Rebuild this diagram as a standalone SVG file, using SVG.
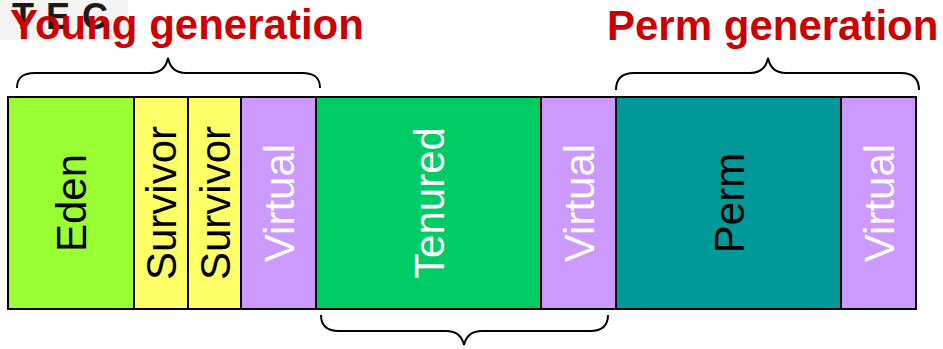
<svg xmlns="http://www.w3.org/2000/svg" width="943" height="349" viewBox="0 0 943 349">
  <style>
    .box { stroke: #000; stroke-width: 2; }
    .lbl { font-family: "Liberation Sans", Arial, sans-serif; font-size: 42px; text-anchor: middle; }
    .title { font-family: "Liberation Sans", Arial, sans-serif; font-size: 42px; font-weight: bold; fill: #CC0000; }
    .brace { fill: none; stroke: #000; stroke-width: 2; }
  </style>
  <rect x="0" y="0" width="943" height="349" fill="#fff"/>
  <g id="logo">
    <rect x="0" y="0" width="128" height="40" fill="#f3f3f3"/>
    <text x="12" y="29" font-family="Liberation Sans, Arial, sans-serif" font-size="36" font-weight="bold" letter-spacing="12" fill="#1a1a1a">TEC</text>
  </g>
  <g id="eden">
    <rect class="box" x="8" y="97" width="126" height="212" fill="#99FF33"/>
    <text class="lbl" x="71" y="203" dy="15" transform="rotate(-90 71 203)" fill="#000">Eden</text>
  </g>
  <g id="survivor1">
    <rect class="box" x="134" y="97" width="54" height="212" fill="#FFFF66"/>
    <text class="lbl" x="161" y="203" dy="15" transform="rotate(-90 161 203)" fill="#000">Survivor</text>
  </g>
  <g id="survivor2">
    <rect class="box" x="188" y="97" width="53" height="212" fill="#FFFF66"/>
    <text class="lbl" x="214.5" y="203" dy="15" transform="rotate(-90 214.5 203)" fill="#000">Survivor</text>
  </g>
  <g id="virtual1">
    <rect class="box" x="241" y="97" width="75" height="212" fill="#CC99FF"/>
    <text class="lbl" x="278.5" y="203" dy="15" transform="rotate(-90 278.5 203)" fill="#fff">Virtual</text>
  </g>
  <g id="tenured">
    <rect class="box" x="316" y="97" width="225" height="212" fill="#00CC66"/>
    <text class="lbl" x="429" y="203" dy="15" transform="rotate(-90 429 203)" fill="#fff">Tenured</text>
  </g>
  <g id="virtual2">
    <rect class="box" x="541" y="97" width="75" height="212" fill="#CC99FF"/>
    <text class="lbl" x="578.5" y="203" dy="15" transform="rotate(-90 578.5 203)" fill="#fff">Virtual</text>
  </g>
  <g id="perm">
    <rect class="box" x="616" y="97" width="225" height="212" fill="#009999"/>
    <text class="lbl" x="728.5" y="203" dy="15" transform="rotate(-90 728.5 203)" fill="#000">Perm</text>
  </g>
  <g id="virtual3">
    <rect class="box" x="841" y="97" width="75" height="212" fill="#CC99FF"/>
    <text class="lbl" x="878.5" y="203" dy="15" transform="rotate(-90 878.5 203)" fill="#fff">Virtual</text>
  </g>
  <g id="young-label">
    <text class="title" x="10" y="39">Young generation</text>
  </g>
  <g id="perm-label">
    <text class="title" x="607" y="40">Perm generation</text>
  </g>
  <g id="connectors">
    <path class="brace" d="M17,88 C17,78 22,73 35,73 L150,73 C160,73 166,68 168,58 C170,68 176,73 186,73 L302,73 C315,73 320,78 320,88"/>
    <path class="brace" d="M616,90 C616,80 621,73 634,73 L750,73 C760,73 766,68 768,58 C770,68 776,73 786,73 L901,73 C914,73 919,80 919,90"/>
    <path class="brace" d="M321,315 C321,325 326,331 339,331 L446,331 C456,331 462,336 464,345 C466,336 472,331 482,331 L590,331 C603,331 608,325 608,315"/>
  </g>
</svg>
